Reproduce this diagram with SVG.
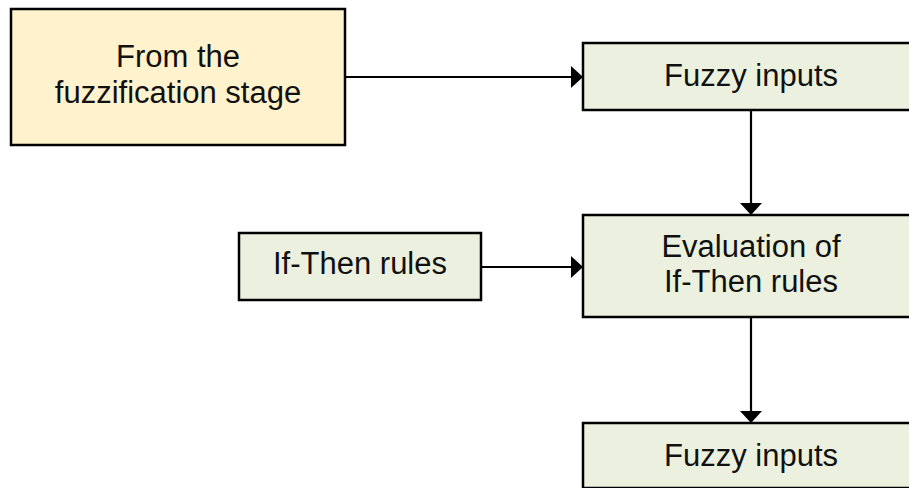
<svg xmlns="http://www.w3.org/2000/svg" width="909" height="488" viewBox="0 0 909 488">
<style>
.box{stroke:#000;stroke-width:2.5}
.orange{fill:#FFF2CC}
.green{fill:#EBF1DE}
.t{font-family:"Liberation Sans",Arial,sans-serif;font-size:31px;fill:#111;text-anchor:middle}
.c{stroke:#000;stroke-width:2.2;fill:none}
</style>
<defs>
<marker id="ah" viewBox="0 0 12 22" refX="12" refY="11" markerWidth="12" markerHeight="22" markerUnits="userSpaceOnUse" orient="auto">
<path d="M0,0 L12,11 L0,22 z" fill="#000"/>
</marker>
</defs>
<rect width="909" height="488" fill="#fff"/>
<g id="connectors">
<path class="c" d="M345,77 L583,77" marker-end="url(#ah)"/>
<path class="c" d="M751,110 L751,215" marker-end="url(#ah)"/>
<path class="c" d="M481,267 L583,267" marker-end="url(#ah)"/>
<path class="c" d="M751,317 L751,423" marker-end="url(#ah)"/>
</g>
<g id="fuzzification">
<rect class="box orange" x="11" y="9" width="334" height="136"/>
<text class="t" x="178" y="67">From the</text>
<text class="t" x="178" y="103">fuzzification stage</text>
</g>
<g id="fuzzy-inputs-1">
<rect class="box green" x="583" y="43" width="350" height="67"/>
<text class="t" x="751" y="86">Fuzzy inputs</text>
</g>
<g id="if-then-rules">
<rect class="box green" x="239" y="233" width="242" height="67"/>
<text class="t" x="360" y="274">If-Then rules</text>
</g>
<g id="evaluation">
<rect class="box green" x="583" y="215" width="350" height="102"/>
<text class="t" x="751" y="257">Evaluation of</text>
<text class="t" x="751" y="292">If-Then rules</text>
</g>
<g id="fuzzy-inputs-2">
<rect class="box green" x="583" y="423" width="350" height="65"/>
<text class="t" x="751" y="466">Fuzzy inputs</text>
</g>
</svg>
